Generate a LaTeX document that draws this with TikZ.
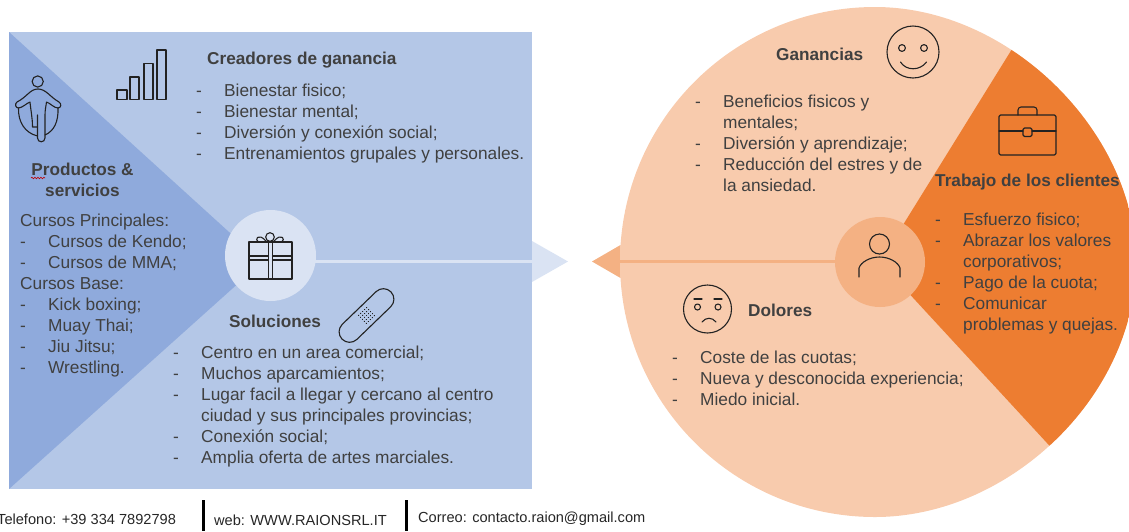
\documentclass[tikz,border=0pt]{standalone}
\usepackage{fontspec}
\setmainfont{Liberation Sans}
\usetikzlibrary{decorations.pathmorphing}
\definecolor{rectblue}{HTML}{B4C7E7}
\definecolor{darkblue}{HTML}{8FAADC}
\definecolor{paleblue}{HTML}{DAE3F3}
\definecolor{lightor}{HTML}{F8CBAD}
\definecolor{midor}{HTML}{F4B183}
\definecolor{darkor}{HTML}{ED7D31}
\definecolor{txt}{HTML}{404040}
\definecolor{iconc}{HTML}{222222}
\newcommand{\dd}{-}
\newcommand{\blobpath}{(875,7) .. controls (1012,7) and (1136,135) .. (1136,262) .. controls (1136,395) and (1010,517) .. (875,517) .. controls (734,517) and (620,403) .. (620,262) .. controls (620,121) and (734,7) .. (875,7) -- cycle}
\newenvironment{dlist}{\begin{tabular}[t]{@{}p{28pt}@{}l@{}}}{\end{tabular}}
\tikzset{
  bodytext/.style={anchor=north west,inner sep=0pt,text=txt,font=\fontsize{17.3}{21}\selectfont},
  headtext/.style={anchor=west,inner sep=0pt,text=txt,font=\fontsize{17.2}{21}\selectfont\bfseries},
  foot/.style={anchor=west,inner sep=0pt,text=black!85,font=\fontsize{14.6}{17}\selectfont},
  icon/.style={draw=iconc,line width=1.1pt,line join=round,line cap=round},
  bar/.style={draw=black,line width=3pt},
}
\begin{document}
\begin{tikzpicture}[x=1pt,y=-1pt]
\useasboundingbox (0,0) rectangle (1129,531);
\clip (0,0) rectangle (1129,531);
% left panel
\fill[rectblue] (9,32) rectangle (532,489);
\fill[darkblue] (9,32) -- (262,262) -- (9,489) -- cycle;
\coordinate (panelE) at (532,261.5);
\coordinate (arrowTip) at (568,261.5);
\fill[paleblue] (532,241) -- (arrowTip) -- (532,282) -- cycle;
\node[circle,fill=paleblue,minimum size=91pt,inner sep=0pt] (gift) at (270.5,255.5) {};
\draw[paleblue,line width=3pt] (gift.east |- panelE) ++(-3,0) -- (panelE);
% right circle
\fill[midor] (592,261.5) -- (620.5,245) -- (620.5,278) -- cycle;
\fill[lightor] \blobpath;
\begin{scope}
\clip \blobpath;
\fill[darkor] (880,262) -- (1030,20) -- (1200,20) -- (1200,560) -- (1130,533) -- cycle;
\end{scope}
\node[circle,fill=midor,minimum size=90pt,inner sep=0pt] (person) at (880,262) {};
\coordinate (circW) at (620,261.5);
\draw[midor,line width=3pt] (circW) -- (person.west |- circW) ++(3,0);
% icons: bars
\draw[icon] (117,90) rectangle (127,99.5) (130,77) rectangle (139,99.5) (144,63.5) rectangle (153,99.5) (157,50) rectangle (166,99.5);
% jump rope
\draw[icon] (37.7,81.5) circle (5.6);
\draw[icon] (38,89) .. controls (30,89) and (27,97) .. (17,102) .. controls (14.5,104) and (15.5,108) .. (18.5,108) .. controls (22,108) and (27,103) .. (30,102) .. controls (31,112) and (32.5,118) .. (32.5,127) -- (37.5,127);
\draw[icon] (37.5,115) -- (37.5,138) .. controls (37.5,143) and (45,143) .. (45,138) -- (45,115) .. controls (45,110) and (46,106) .. (46.5,102) .. controls (50,103) and (54,108) .. (58,108) .. controls (61,108) and (62,104) .. (59,102) .. controls (50,97) and (46,89) .. (38,89);
\draw[icon] (18.5,108) .. controls (18,122) and (25,133) .. (37.5,136);
\draw[icon] (58,108) .. controls (58.5,122) and (54,131) .. (45,135);
% gift
\draw[icon] (249,242) rectangle (292,279);
\draw[icon] (268.5,242) -- (268.5,279) (272.5,242) -- (272.5,279);
\draw[icon] (249,256) -- (268.5,256) (249,260) -- (268.5,260) (272.5,256) -- (292,256) (272.5,260) -- (292,260);
\draw[icon] (270,237) circle (4.3);
\draw[icon] (266,241) .. controls (258,232) and (254,240) .. (258.5,242);
\draw[icon] (274,241) .. controls (282,232) and (286,240) .. (281.5,242);
% bandage
\begin{scope}[shift={(366.5,315.5)},rotate=44]
\draw[icon,rounded corners=10.5pt] (-34,-10.5) rectangle (34,10.5);
\foreach \i in {-2,...,2}\foreach \j in {-2,...,2}{\fill[iconc] (\i*2.8,\j*2.8) circle (0.65);}
\end{scope}
% smile
\draw[icon] (913,52) circle (26);
\draw[icon] (902,48) circle (3.4) (924,48) circle (3.4);
\draw[icon] (900.5,62) .. controls (906,71) and (920,71) .. (926.5,62);
% briefcase
\draw[icon,rounded corners=1.5pt] (999,115) rectangle (1056,155);
\draw[icon] (999,131) -- (1023,131) (1032,131) -- (1056,131);
\draw[icon,rounded corners=1.5pt] (1023,128) rectangle (1032,136.5);
\draw[icon,rounded corners=3pt] (1018,115) -- (1018,107) -- (1037,107) -- (1037,115);
% person
\draw[icon] (879.5,244) circle (10);
\draw[icon] (859,277) -- (859,268) .. controls (861,262) and (870,257) .. (879.5,257) .. controls (889,257) and (898,262) .. (900,268) -- (900,277);
% sad
\draw[icon] (707.5,309) circle (24);
\draw[icon] (697.5,307) circle (3) (718,307) circle (3);
\draw[icon] (694,299) -- (702,299) (714,299) -- (722,299);
\draw[icon] (702,322) .. controls (706,317) and (712,317) .. (716,322);
% texts
\node[headtext] (tCrea) at (207,60) {Creadores de ganancia};
\node[bodytext] (lCrea) at (196,82) {\begin{dlist}\dd&Bienestar fisico;\\\dd&Bienestar mental;\\\dd&Diversión y conexión social;\\\dd&Entrenamientos grupales y personales.\end{dlist}};
\node[headtext,align=center,anchor=center] (tProd) at (82.5,180) {Productos \&\\servicios};
\draw[red!75!black,line width=0.6pt,decorate,decoration={snake,amplitude=0.8pt,segment length=3pt}] (31,178) -- (45,178);
\node[bodytext] (lProd) at (20,212) {\begin{tabular}[t]{@{}p{28pt}@{}l@{}}\multicolumn{2}{@{}l@{}}{Cursos Principales:}\\\dd&Cursos de Kendo;\\\dd&Cursos de MMA;\\\multicolumn{2}{@{}l@{}}{Cursos Base:}\\\dd&Kick boxing;\\\dd&Muay Thai;\\\dd&Jiu Jitsu;\\\dd&Wrestling.\end{tabular}};
\node[headtext] (tSol) at (229,321) {Soluciones};
\node[bodytext] (lSol) at (173,344) {\begin{dlist}\dd&Centro en un area comercial;\\\dd&Muchos aparcamientos;\\\dd&Lugar facil a llegar y cercano al centro\\&ciudad y sus principales provincias;\\\dd&Conexión social;\\\dd&Amplia oferta de artes marciales.\end{dlist}};
\node[headtext] (tGan) at (776,54) {Ganancias};
\node[bodytext] (lGan) at (695,93) {\begin{dlist}\dd&Beneficios fisicos y\\&mentales;\\\dd&Diversión y aprendizaje;\\\dd&Reducción del estres y de\\&la ansiedad.\end{dlist}};
\node[headtext] (tTra) at (935,182) {Trabajo de los clientes};
\node[bodytext] (lTra) at (935,211) {\begin{dlist}\dd&Esfuerzo fisico;\\\dd&Abrazar los valores\\&corporativos;\\\dd&Pago de la cuota;\\\dd&Comunicar\\&problemas y quejas.\end{dlist}};
\node[headtext] (tDol) at (748,310) {Dolores};
\node[bodytext] (lDol) at (672,349) {\begin{dlist}\dd&Coste de las cuotas;\\\dd&Nueva y desconocida experiencia;\\\dd&Miedo inicial.\end{dlist}};
% footer
\node[foot] (fTel) at (-3,519) {Telefono: +39 334 7892798};
\node[foot] (fWeb) at (214,520) {web: WWW.RAIONSRL.IT};
\node[foot] (fCor) at (418,519) {Correo: contacto.raion@gmail.com};
\draw[bar] (203,500) -- (203,531);
\draw[bar] (406,500) -- (406,531);
\end{tikzpicture}
\end{document}
